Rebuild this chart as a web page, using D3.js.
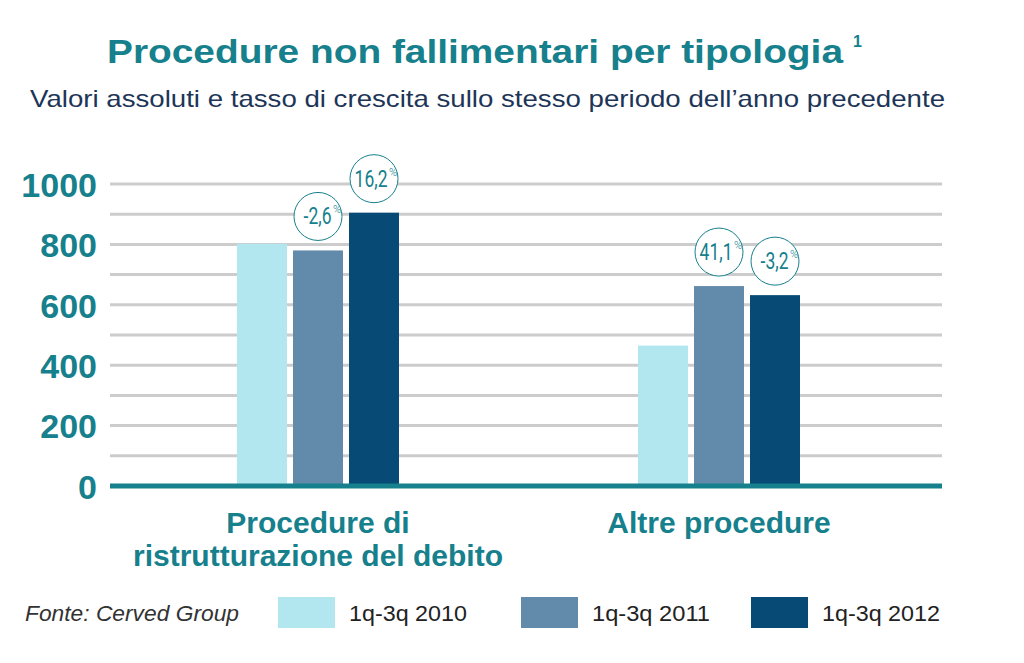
<!DOCTYPE html>
<html><head><meta charset="utf-8">
<script src="https://cdn.jsdelivr.net/npm/d3@7"></script>
<style>
body{margin:0;background:#fff;}
svg{display:block;}
</style></head>
<body>
<svg id="c" width="1024" height="663"></svg>
<script>
const categories = [["Procedure di","ristrutturazione del debito"],["Altre procedure"]];
const seriesNames = ["1q-3q 2010","1q-3q 2011","1q-3q 2012"];
const values2010 = [802, 465];
const values2011 = [780, 662];
const values2012 = [905, 632];
const growth2011 = ["-2,6", "41,1"];
const growth2012 = ["16,2", "-3,2"];
const yTicks = [0,200,400,600,800,1000];
const gridValues = [100,200,300,400,500,600,700,800,900,1000];
const colors = ["#b3e7f0","#628bab","#064a75"];
const teal = "#16808c";
const FONT = "Liberation Sans, Arial, Helvetica, sans-serif";

const svg = d3.select("#c");
const y = d3.scaleLinear().domain([0,1000]).range([486,184]);
const x0 = d3.scalePoint().domain([0,1]).range([318,719]);
const x1 = d3.scaleBand().domain([0,1,2]).range([-81,81]).paddingInner(6/56).paddingOuter(0);

// title
svg.append("text").attr("x",107).attr("y",63).attr("font-family",FONT)
  .attr("font-weight","bold").attr("font-size",34).attr("fill",teal)
  .attr("textLength",736).attr("lengthAdjust","spacingAndGlyphs")
  .text("Procedure non fallimentari per tipologia");
svg.append("text").attr("x",853).attr("y",47).attr("font-family",FONT)
  .attr("font-weight","bold").attr("font-size",16).attr("fill",teal).text("1");
svg.append("text").attr("x",30).attr("y",107).attr("font-family",FONT)
  .attr("font-size",24).attr("fill","#1d3557")
  .attr("textLength",915).attr("lengthAdjust","spacingAndGlyphs")
  .text("Valori assoluti e tasso di crescita sullo stesso periodo dell\u2019anno precedente");

// grid
svg.append("g").selectAll("line").data(gridValues).join("line")
  .attr("x1",110).attr("x2",942).attr("y1",d=>y(d)).attr("y2",d=>y(d))
  .attr("stroke","#cccccc").attr("stroke-width",3);

// y axis labels
const yAxis = d3.axisLeft(y).tickValues(yTicks).tickSize(0).tickPadding(0).tickFormat(d3.format("d"));
const ga = svg.append("g").attr("transform","translate(97,0)").call(yAxis);
ga.select(".domain").remove();
ga.selectAll("text").attr("font-family",FONT).attr("font-weight","bold")
  .attr("font-size",34).attr("fill",teal).attr("dy","0.36em");

// bars
const series = [values2010, values2011, values2012];
series.forEach((vals, s) => {
  svg.append("g").selectAll("rect").data(vals).join("rect")
    .attr("x",(d,i)=>x0(i)+x1(s)).attr("width",x1.bandwidth())
    .attr("y",d=>y(d)).attr("height",d=>y(0)-y(d)).attr("fill",colors[s]);
});

// baseline
svg.append("line").attr("x1",110).attr("x2",942).attr("y1",y(0)).attr("y2",y(0))
  .attr("stroke",teal).attr("stroke-width",5);

// growth circles
function bubbles(vals, labels, s){
  const g = svg.append("g").selectAll("g").data(vals).join("g")
    .attr("transform",(d,i)=>`translate(${x0(i)+x1(s)+x1.bandwidth()/2},${y(d)-34})`);
  g.append("circle").attr("r",24).attr("fill","#fff").attr("stroke",teal).attr("stroke-width",1);
  g.append("text").attr("transform","translate(13.5,8) scale(0.76,1)")
    .attr("text-anchor","end")
    .attr("font-family","Roboto, Liberation Sans, sans-serif").attr("font-weight",400)
    .attr("font-size",23).attr("fill",teal)
    .text((d,i)=>labels[i]);
  g.append("text").attr("x",15).attr("y",-3)
    .attr("font-family","Roboto, Liberation Sans, sans-serif").attr("font-weight",300)
    .attr("font-size",11).attr("fill",teal).text("%");
}
bubbles(values2011, growth2011, 1);
bubbles(values2012, growth2012, 2);

// category labels
categories.forEach((lines,i)=>{
  const t = svg.append("text").attr("text-anchor","middle")
    .attr("font-family",FONT).attr("font-weight","bold")
    .attr("font-size",30).attr("fill",teal);
  lines.forEach((l,j)=>t.append("tspan").attr("x",x0(i)).attr("y",533+j*33).text(l));
});

// source
svg.append("text").attr("x",25).attr("y",621).attr("font-family",FONT)
  .attr("font-style","italic").attr("font-size",22).attr("fill","#333")
  .attr("textLength",214).attr("lengthAdjust","spacingAndGlyphs").text("Fonte: Cerved Group");

// legend
const legX = [278,521,751];
const lg = svg.append("g").selectAll("g").data(seriesNames).join("g")
  .attr("transform",(d,i)=>`translate(${legX[i]},597)`);
lg.append("rect").attr("width",57).attr("height",31).attr("fill",(d,i)=>colors[i]);
lg.append("text").attr("x",71).attr("y",24).attr("font-family",FONT)
  .attr("font-size",22).attr("fill","#222")
  .attr("textLength",118).attr("lengthAdjust","spacingAndGlyphs").text(d=>d);
</script>
</body></html>
